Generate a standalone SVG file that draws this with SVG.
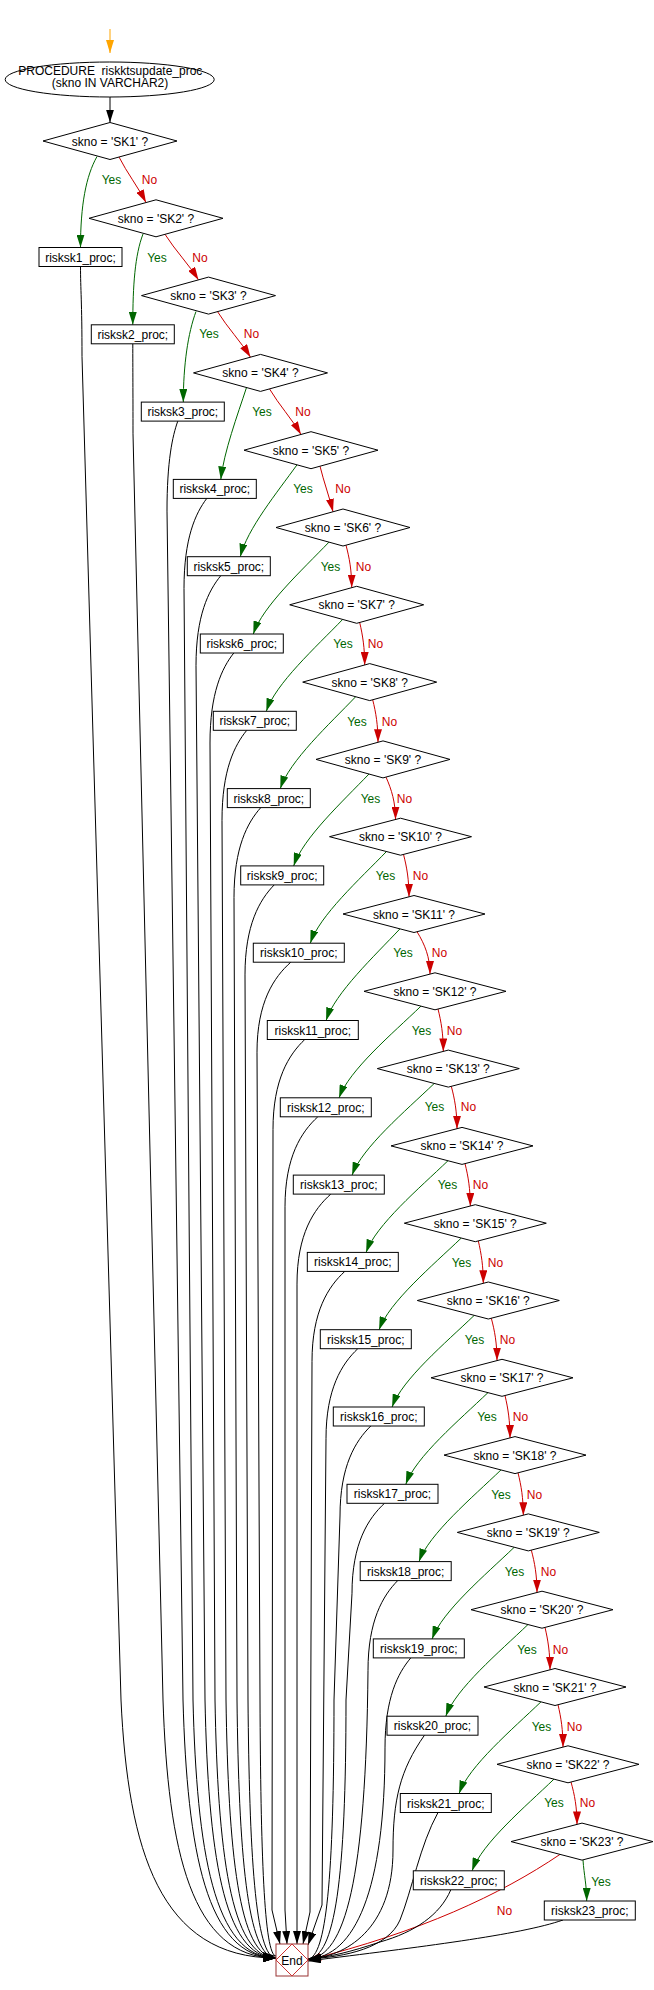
<svg xmlns="http://www.w3.org/2000/svg" width="654" height="1990" viewBox="0 0 654 1990">
<style>
text{font-family:"Liberation Sans",Arial,sans-serif;font-size:12px;text-anchor:middle;fill:#000}
.s{fill:#fff;stroke:#000;stroke-width:1}
.yes{fill:#006600}
.no{fill:#cc0000}
#edges path{fill:none;stroke-width:1}
.eb{stroke:#000;marker-end:url(#ab)}
.eg{stroke:#006600;marker-end:url(#ag)}
.er{stroke:#cc0000;marker-end:url(#ar)}
.eo{stroke:#ffa500;marker-end:url(#ao)}
</style>
<defs>
<marker id="ab" viewBox="0 0 13 8" refX="13" refY="4" markerWidth="13" markerHeight="8" markerUnits="userSpaceOnUse" orient="auto"><path d="M0,0L13,4L0,8z" fill="#000"/></marker>
<marker id="ag" viewBox="0 0 13 8" refX="13" refY="4" markerWidth="13" markerHeight="8" markerUnits="userSpaceOnUse" orient="auto"><path d="M0,0L13,4L0,8z" fill="#006600"/></marker>
<marker id="ar" viewBox="0 0 13 8" refX="13" refY="4" markerWidth="13" markerHeight="8" markerUnits="userSpaceOnUse" orient="auto"><path d="M0,0L13,4L0,8z" fill="#cc0000"/></marker>
<marker id="ao" viewBox="0 0 13 8" refX="13" refY="4" markerWidth="13" markerHeight="8" markerUnits="userSpaceOnUse" orient="auto"><path d="M0,0L13,4L0,8z" fill="#ffa500"/></marker>
<polygon id="dS" points="-67,0 0,-18.5 67,0 0,18.5"/>
<polygon id="dL" points="-71,0 0,-18.5 71,0 0,18.5"/>
<rect id="rS" x="-41.5" y="-9.5" width="83" height="19"/>
<rect id="rL" x="-45.5" y="-9.5" width="91" height="19"/>
</defs>
<rect width="654" height="1990" fill="#fff"/>
<g id="edges">
<path class="eo" d="M110,29L110,53"/>
<path class="eb" d="M110,97L110,122.5"/>
<!-- Yes edges -->
<path class="eg" d="M97,156.5C86,176 80.5,205 80.5,247.5"/>
<path class="eg" d="M143,234C135,255 132.8,285 132.8,324.8"/>
<path class="eg" d="M196,311.5C188,333 183.3,365 183.3,402.1"/>
<path class="eg" d="M246.5,387.5C237.5,415.1 223.9,451.8 220.8,479.4"/>
<path class="eg" d="M297,464.8C277.2,492.4 247.1,529.1 240.3,556.7"/>
<path class="eg" d="M329,542.1C302.5,569.7 262.4,606.4 253.3,634"/>
<path class="eg" d="M342.7,619.4C316,647 275.5,683.7 266.3,711.3"/>
<path class="eg" d="M355.7,696.7C329.3,724.2 289.3,761.1 280.3,788.6"/>
<path class="eg" d="M369,774C342.6,801.5 302.7,838.4 293.7,865.9"/>
<path class="eg" d="M386.5,851.5C359.8,879.1 319.4,915.7 310.3,943.2"/>
<path class="eg" d="M400,928.8C374.1,956.4 335,993 326.1,1020.5"/>
<path class="eg" d="M421,1006.1C392.3,1033.7 348.9,1070.3 339.1,1097.8"/>
<path class="eg" d="M434.3,1083.4C405.5,1111 362,1147.6 352.1,1175.1"/>
<path class="eg" d="M448,1160.7C419.3,1188.3 375.9,1224.9 366.1,1252.4"/>
<path class="eg" d="M461.3,1238C432.5,1265.6 389,1302.2 379.1,1329.7"/>
<path class="eg" d="M474.3,1315.3C445.5,1342.9 402,1379.5 392.1,1407"/>
<path class="eg" d="M488,1392.6C459.2,1420.2 415.7,1456.8 405.8,1484.3"/>
<path class="eg" d="M501,1469.9C472.3,1497.5 428.8,1534.1 419,1561.6"/>
<path class="eg" d="M514.3,1547.2C485.5,1574.8 442,1611.4 432.1,1638.9"/>
<path class="eg" d="M528,1624.5C499.2,1652.1 455.7,1688.7 445.8,1716.2"/>
<path class="eg" d="M541,1701.8C512.3,1729.4 468.9,1766 459.1,1793.5"/>
<path class="eg" d="M554,1779.1C525.3,1806.7 481.9,1843.3 472.1,1870.8"/>
<path class="eg" d="M583,1860C584,1875 586.7,1885 586.7,1901"/>
<!-- No edges -->
<path class="er" d="M119,157C127.1,173 137.9,186.6 146,202.6"/>
<path class="er" d="M165,234.3C175.1,250.3 188.5,263.9 198.5,279.9"/>
<path class="er" d="M217.5,311.6C227.4,327.6 240.6,341.2 250.5,357.2"/>
<path class="er" d="M269.5,388.9C279,404.9 291.6,418.5 301,434.5"/>
<path class="er" d="M320,466.2C323.9,482.2 329.1,495.8 333,511.8"/>
<path class="er" d="M346,545.2C349.4,557.9 351.7,570.6 351.7,587.6"/>
<path class="er" d="M359.7,622.5C362.7,635.2 364.7,648 364.7,665"/>
<path class="er" d="M372.7,699.8C375.9,712.5 378,725.2 378,742.2"/>
<path class="er" d="M386,777.1C391.7,789.8 395.5,802.5 395.5,819.5"/>
<path class="er" d="M403.5,854.4C406.8,867.1 409,879.8 409,896.8"/>
<path class="er" d="M417,931.7C424.8,944.4 430,957.1 430,974.1"/>
<path class="er" d="M438,1009C441.2,1021.7 443.3,1034.4 443.3,1051.4"/>
<path class="er" d="M451.3,1086.3C454.7,1099 457,1111.7 457,1128.7"/>
<path class="er" d="M465,1163.6C468.2,1176.3 470.3,1189 470.3,1206"/>
<path class="er" d="M478.3,1240.9C481.3,1253.6 483.3,1266.3 483.3,1283.3"/>
<path class="er" d="M491.3,1318.2C494.7,1330.9 497,1343.6 497,1360.6"/>
<path class="er" d="M505,1395.5C508,1408.2 510,1420.9 510,1437.9"/>
<path class="er" d="M518,1472.8C521.2,1485.5 523.3,1498.2 523.3,1515.2"/>
<path class="er" d="M531.3,1550.1C534.7,1562.8 537,1575.5 537,1592.5"/>
<path class="er" d="M545,1627.4C548,1640.1 550,1652.8 550,1669.8"/>
<path class="er" d="M558,1704.7C561,1717.4 563,1730.1 563,1747.1"/>
<path class="er" d="M571,1782C574.6,1794.7 577,1807.4 577,1824.4"/>
<path class="er" d="M560,1854.4C500,1895 420,1932 308,1960"/>
<!-- return edges to End -->
<path class="eb" d="M80.5,266.5C80.5,290 82,300 82,356.5L121,1700C128,1850 159.8,1958 276,1958"/>
<path class="eb" d="M132.8,343.8C132.8,370 133,390 133,433.8L163,1700C168,1850 191.3,1958 276,1958"/>
<path class="eb" d="M177.8,421.1C172.4,436.1 167,461.1 167,511.1L183,1700C187.2,1850 206.3,1958 276,1958"/>
<path class="eb" d="M206.8,498.4C195.4,513.4 184,538.4 184,588.4L193,1700C196.7,1850 213.8,1958 276,1958"/>
<path class="eb" d="M220.8,575.7C208.4,590.7 196,615.7 196,665.7L205,1700C208.2,1850 222.8,1958 276,1958"/>
<path class="eb" d="M233.8,653C221.9,668 210,693 210,743L215,1700C217.7,1850 230.3,1958 276,1958"/>
<path class="eb" d="M246.8,730.3C234.4,745.3 222,770.3 222,820.3L226,1700C228.3,1850 238.5,1958 276,1958"/>
<path class="eb" d="M260.8,807.6C247.4,822.6 234,847.6 234,897.6L237,1700C238.8,1850 246.8,1958 276,1958"/>
<path class="eb" d="M274.2,884.9C259.6,899.9 245,924.9 245,974.9L248,1700C249.3,1850 255,1958 276,1958"/>
<path class="eb" d="M290.8,962.2C273.9,977.2 257,1002.2 257,1052.2L260,1700C260.7,1850 264,1956 276,1956"/>
<path class="eb" d="M304.8,1039.5C288.9,1054.5 273,1079.5 273,1129.5L272,1910L280,1944"/>
<path class="eb" d="M317.8,1116.8C301.4,1131.8 285,1156.8 285,1206.8L285,1910L287,1944"/>
<path class="eb" d="M330.8,1194.1C313.9,1209.1 297,1234.1 297,1284.1L297,1944"/>
<path class="eb" d="M344.8,1271.4C328.4,1286.4 312,1311.4 312,1361.4L310,1912L303,1944"/>
<path class="eb" d="M357.8,1348.7C341.9,1363.7 326,1388.7 326,1438.7L322,1905L308,1945"/>
<path class="eb" d="M370.8,1426C355.4,1441 340,1466 340,1516L334,1700C334,1880 326,1957 308,1959"/>
<path class="eb" d="M384.5,1503.3C368.3,1518.3 352,1543.3 352,1593.3L346,1700C346,1880 335,1957 308,1959"/>
<path class="eb" d="M397.7,1580.6C382.9,1595.6 368,1620.6 368,1670.6C366,1880 345,1957 308,1959"/>
<path class="eb" d="M410.8,1657.9C398,1672.9 385,1697.9 385,1747.9C385,1890 355,1957 308,1959"/>
<path class="eb" d="M424.5,1735.2C400,1770 393,1800 393,1850C393,1930 345,1957 308,1959"/>
<path class="eb" d="M438,1812.5C420,1845 412,1890 400,1920C388,1948 345,1957 308,1959"/>
<path class="eb" d="M450.8,1889.8C440,1915 415,1932 380,1942C350,1952 330,1957 308,1959"/>
<path class="eb" d="M563,1920C520,1935 420,1947 308,1961"/>
<!-- labels -->
<text class="yes" x="111.5" y="184">Yes</text><text class="no" x="149.5" y="184">No</text>
<text class="yes" x="157" y="262">Yes</text><text class="no" x="200" y="262">No</text>
<text class="yes" x="209" y="338">Yes</text><text class="no" x="251.5" y="338">No</text>
<text class="yes" x="262" y="415.7">Yes</text><text class="no" x="303" y="415.7">No</text>
<text class="yes" x="303" y="493">Yes</text><text class="no" x="343" y="493">No</text>
<text class="yes" x="330.5" y="570.7">Yes</text><text class="no" x="363.5" y="570.7">No</text>
<text class="yes" x="343" y="647.7">Yes</text><text class="no" x="375.5" y="647.7">No</text>
<text class="yes" x="357" y="725.7">Yes</text><text class="no" x="389.5" y="725.7">No</text>
<text class="yes" x="370.5" y="802.7">Yes</text><text class="no" x="404.5" y="802.7">No</text>
<text class="yes" x="385.5" y="879.7">Yes</text><text class="no" x="420.5" y="879.7">No</text>
<text class="yes" x="403" y="957.3">Yes</text><text class="no" x="439.5" y="957.3">No</text>
<text class="yes" x="421.5" y="1034.7">Yes</text><text class="no" x="454.5" y="1034.7">No</text>
<text class="yes" x="434.5" y="1111.3">Yes</text><text class="no" x="468.5" y="1111.3">No</text>
<text class="yes" x="447.5" y="1189.3">Yes</text><text class="no" x="480.5" y="1189.3">No</text>
<text class="yes" x="461.5" y="1266.7">Yes</text><text class="no" x="495.5" y="1266.7">No</text>
<text class="yes" x="474.5" y="1343.7">Yes</text><text class="no" x="507.5" y="1343.7">No</text>
<text class="yes" x="487" y="1421.3">Yes</text><text class="no" x="520.5" y="1421.3">No</text>
<text class="yes" x="501" y="1498.7">Yes</text><text class="no" x="534.5" y="1498.7">No</text>
<text class="yes" x="514.5" y="1575.7">Yes</text><text class="no" x="548.5" y="1575.7">No</text>
<text class="yes" x="527" y="1653.7">Yes</text><text class="no" x="560.5" y="1653.7">No</text>
<text class="yes" x="541.5" y="1730.7">Yes</text><text class="no" x="574.5" y="1730.7">No</text>
<text class="yes" x="554" y="1807.3">Yes</text><text class="no" x="587.5" y="1807.3">No</text>
<text class="yes" x="601" y="1885.7">Yes</text><text class="no" x="504.5" y="1914.7">No</text>
</g>
<g id="start">
<ellipse class="s" cx="109.7" cy="79.5" rx="104.5" ry="17.5"/>
<text x="110.3" y="74.5" xml:space="preserve">PROCEDURE  riskktsupdate_proc</text>
<text x="110" y="87">(skno IN VARCHAR2)</text>
</g>
<g id="sk1" transform="translate(110,141)"><use href="#dS" class="s"/><text y="4.5">skno = 'SK1' ?</text></g>
<g id="sk2" transform="translate(156,218.3)"><use href="#dS" class="s"/><text y="4.5">skno = 'SK2' ?</text></g>
<g id="sk3" transform="translate(208.5,295.6)"><use href="#dS" class="s"/><text y="4.5">skno = 'SK3' ?</text></g>
<g id="sk4" transform="translate(260.5,372.9)"><use href="#dS" class="s"/><text y="4.5">skno = 'SK4' ?</text></g>
<g id="sk5" transform="translate(311,450.2)"><use href="#dS" class="s"/><text y="4.5">skno = 'SK5' ?</text></g>
<g id="sk6" transform="translate(343,527.5)"><use href="#dS" class="s"/><text y="4.5">skno = 'SK6' ?</text></g>
<g id="sk7" transform="translate(356.7,604.8)"><use href="#dS" class="s"/><text y="4.5">skno = 'SK7' ?</text></g>
<g id="sk8" transform="translate(369.7,682.1)"><use href="#dS" class="s"/><text y="4.5">skno = 'SK8' ?</text></g>
<g id="sk9" transform="translate(383,759.4)"><use href="#dS" class="s"/><text y="4.5">skno = 'SK9' ?</text></g>
<g id="sk10" transform="translate(400.5,836.7)"><use href="#dL" class="s"/><text y="4.5">skno = 'SK10' ?</text></g>
<g id="sk11" transform="translate(414,914)"><use href="#dL" class="s"/><text y="4.5">skno = 'SK11' ?</text></g>
<g id="sk12" transform="translate(435,991.3)"><use href="#dL" class="s"/><text y="4.5">skno = 'SK12' ?</text></g>
<g id="sk13" transform="translate(448.3,1068.6)"><use href="#dL" class="s"/><text y="4.5">skno = 'SK13' ?</text></g>
<g id="sk14" transform="translate(462,1145.9)"><use href="#dL" class="s"/><text y="4.5">skno = 'SK14' ?</text></g>
<g id="sk15" transform="translate(475.3,1223.2)"><use href="#dL" class="s"/><text y="4.5">skno = 'SK15' ?</text></g>
<g id="sk16" transform="translate(488.3,1300.5)"><use href="#dL" class="s"/><text y="4.5">skno = 'SK16' ?</text></g>
<g id="sk17" transform="translate(502,1377.8)"><use href="#dL" class="s"/><text y="4.5">skno = 'SK17' ?</text></g>
<g id="sk18" transform="translate(515,1455.1)"><use href="#dL" class="s"/><text y="4.5">skno = 'SK18' ?</text></g>
<g id="sk19" transform="translate(528.3,1532.4)"><use href="#dL" class="s"/><text y="4.5">skno = 'SK19' ?</text></g>
<g id="sk20" transform="translate(542,1609.7)"><use href="#dL" class="s"/><text y="4.5">skno = 'SK20' ?</text></g>
<g id="sk21" transform="translate(555,1687)"><use href="#dL" class="s"/><text y="4.5">skno = 'SK21' ?</text></g>
<g id="sk22" transform="translate(568,1764.3)"><use href="#dL" class="s"/><text y="4.5">skno = 'SK22' ?</text></g>
<g id="sk23" transform="translate(582,1841.6)"><use href="#dL" class="s"/><text y="4.5">skno = 'SK23' ?</text></g>
<g id="p1" transform="translate(80.5,257)"><use href="#rS" class="s"/><text y="4.5">risksk1_proc;</text></g>
<g id="p2" transform="translate(132.8,334.3)"><use href="#rS" class="s"/><text y="4.5">risksk2_proc;</text></g>
<g id="p3" transform="translate(182.8,411.6)"><use href="#rS" class="s"/><text y="4.5">risksk3_proc;</text></g>
<g id="p4" transform="translate(214.8,488.9)"><use href="#rS" class="s"/><text y="4.5">risksk4_proc;</text></g>
<g id="p5" transform="translate(228.8,566.2)"><use href="#rS" class="s"/><text y="4.5">risksk5_proc;</text></g>
<g id="p6" transform="translate(241.8,643.5)"><use href="#rS" class="s"/><text y="4.5">risksk6_proc;</text></g>
<g id="p7" transform="translate(254.8,720.8)"><use href="#rS" class="s"/><text y="4.5">risksk7_proc;</text></g>
<g id="p8" transform="translate(268.8,798.1)"><use href="#rS" class="s"/><text y="4.5">risksk8_proc;</text></g>
<g id="p9" transform="translate(282.2,875.4)"><use href="#rS" class="s"/><text y="4.5">risksk9_proc;</text></g>
<g id="p10" transform="translate(298.8,952.7)"><use href="#rL" class="s"/><text y="4.5">risksk10_proc;</text></g>
<g id="p11" transform="translate(312.8,1030)"><use href="#rL" class="s"/><text y="4.5">risksk11_proc;</text></g>
<g id="p12" transform="translate(325.8,1107.3)"><use href="#rL" class="s"/><text y="4.5">risksk12_proc;</text></g>
<g id="p13" transform="translate(338.8,1184.6)"><use href="#rL" class="s"/><text y="4.5">risksk13_proc;</text></g>
<g id="p14" transform="translate(352.8,1261.9)"><use href="#rL" class="s"/><text y="4.5">risksk14_proc;</text></g>
<g id="p15" transform="translate(365.8,1339.2)"><use href="#rL" class="s"/><text y="4.5">risksk15_proc;</text></g>
<g id="p16" transform="translate(378.8,1416.5)"><use href="#rL" class="s"/><text y="4.5">risksk16_proc;</text></g>
<g id="p17" transform="translate(392.5,1493.8)"><use href="#rL" class="s"/><text y="4.5">risksk17_proc;</text></g>
<g id="p18" transform="translate(405.7,1571.1)"><use href="#rL" class="s"/><text y="4.5">risksk18_proc;</text></g>
<g id="p19" transform="translate(418.8,1648.4)"><use href="#rL" class="s"/><text y="4.5">risksk19_proc;</text></g>
<g id="p20" transform="translate(432.5,1725.7)"><use href="#rL" class="s"/><text y="4.5">risksk20_proc;</text></g>
<g id="p21" transform="translate(445.8,1803)"><use href="#rL" class="s"/><text y="4.5">risksk21_proc;</text></g>
<g id="p22" transform="translate(458.8,1880.3)"><use href="#rL" class="s"/><text y="4.5">risksk22_proc;</text></g>
<g id="p23" transform="translate(589.8,1910.5)"><use href="#rL" class="s"/><text y="4.5">risksk23_proc;</text></g>
<g id="end">
<rect x="276" y="1944" width="32" height="32" fill="#fff" stroke="#993333"/>
<polygon points="292,1944 308,1960 292,1976 276,1960" fill="none" stroke="#cc3333"/>
<text x="292" y="1964.5">End</text>
</g>
</svg>
